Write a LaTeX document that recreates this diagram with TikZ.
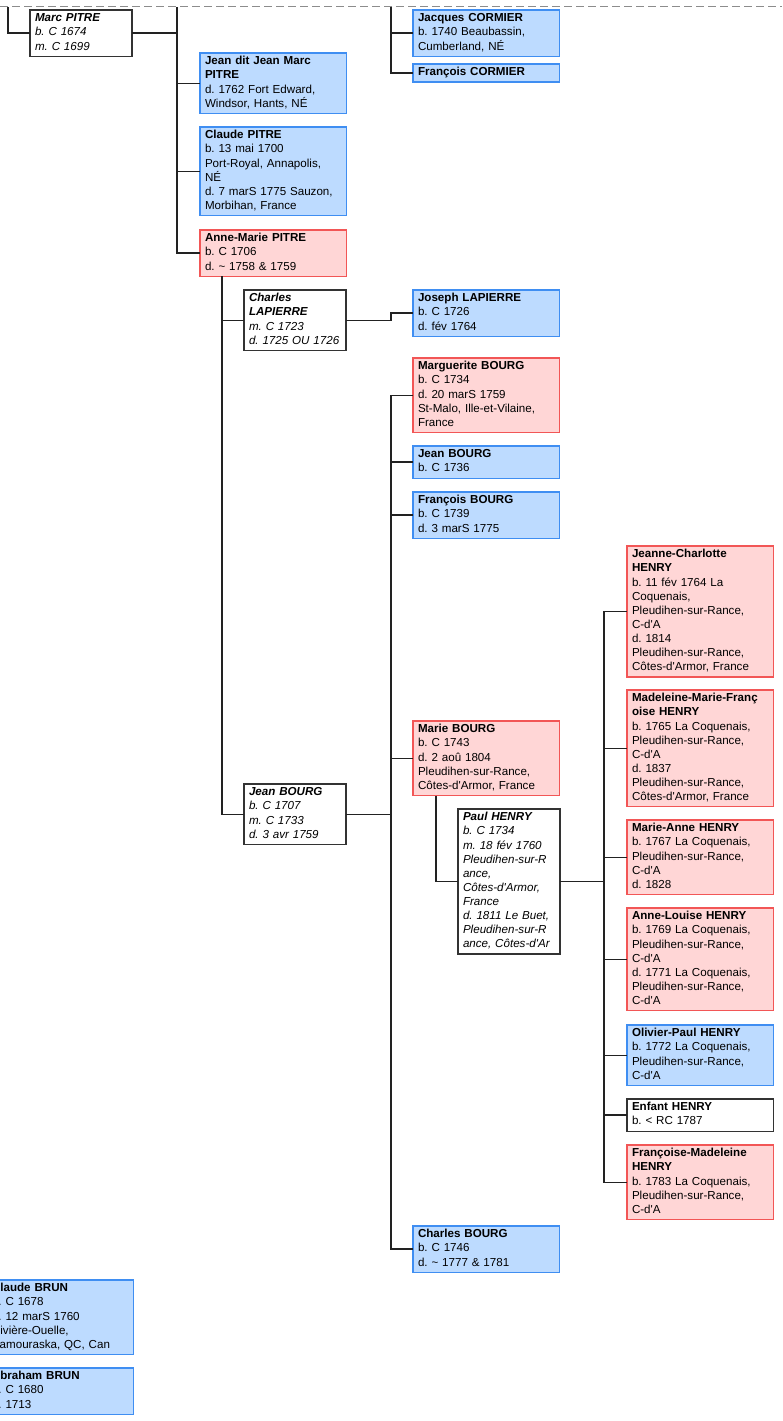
\documentclass[tikz,border=0pt]{standalone}
\usepackage{fontspec}
\setmainfont{Liberation Sans}
\definecolor{MaleFill}{HTML}{BDDBFF}
\definecolor{MaleLine}{HTML}{3F8EF2}
\definecolor{FemaleFill}{HTML}{FFD6D6}
\definecolor{FemaleLine}{HTML}{F25656}
\definecolor{Ink}{HTML}{222222}
\definecolor{Frame}{HTML}{333333}
\definecolor{Guide}{HTML}{8C8C8C}
\newcommand{\ap}{\textquotesingle}
\newcommand{\boxfont}{\fontsize{11.6}{14.1}\selectfont\frenchspacing\hyphenpenalty=10000\exhyphenpenalty=10000}
\tikzset{
  person/.style={draw, anchor=north west, align=left, outer sep=0pt, inner xsep=5pt, inner ysep=2pt,
    line width=1.3pt, font=\boxfont,
    execute at begin node=\strut, execute at end node=\strut},
  male/.style={person, fill=MaleFill, draw=MaleLine, text width=136.5pt},
  female/.style={person, fill=FemaleFill, draw=FemaleLine, text width=136.5pt},
  nosex/.style={person, fill=white, draw=Frame, text width=136.5pt},
  spouse/.style={person, fill=white, draw=Frame, text width=92pt, font=\boxfont\itshape},
  link/.style={draw=Ink, line width=1.4pt},
  guide/.style={draw=Guide, line width=1pt, dash pattern=on 8pt off 4pt},
}

\begin{document}
\begin{tikzpicture}[x=1pt, y=-1pt]
  \useasboundingbox (0,0) rectangle (782,1421);
  \clip (0,0) rectangle (782,1421);
  \draw[guide] (0,7) -- (782,7);
  \coordinate (marctop) at (8,7);
  \coordinate (pitretop) at (177,7);
  \coordinate (cormiertop) at (391,7);
  \coordinate (bourgbus) at (391,0);
  \coordinate (henrybus) at (604,0);

  % PITRE
  \node[spouse] (marc) at (30,10) {\textbf{Marc PITRE}\\ b. C 1674\\ m. C 1699};
  \node[male] (jeandit) at (200,53) {\textbf{Jean dit Jean Marc}\\ \textbf{PITRE}\\ d. 1762 Fort Edward,\\ Windsor, Hants, NÉ};
  \node[male] (claude) at (200,127) {\textbf{Claude PITRE}\\ b. 13 mai 1700\\ Port-Royal, Annapolis,\\ NÉ\\ d. 7 marS 1775 Sauzon,\\ Morbihan, France};
  \node[female] (annemarie) at (200,230) {\textbf{Anne-Marie PITRE}\\ b. C 1706\\ d. \textasciitilde{} 1758 \& 1759};

  % CORMIER
  \node[male] (jacques) at (413,10) {\textbf{Jacques CORMIER}\\ b. 1740 Beaubassin,\\ Cumberland, NÉ};
  \node[male] (fcormier) at (413,64) {\textbf{François CORMIER}};

  % LAPIERRE and BOURG
  \node[spouse] (lapierre) at (244,290) {\textbf{Charles}\\ \textbf{LAPIERRE}\\ m. C 1723\\ \mbox{d. 1725 OU 1726}};
  \node[male] (joseph) at (413,290) {\textbf{Joseph LAPIERRE}\\ b. C 1726\\ d. fév 1764};
  \node[female] (marguerite) at (413,358) {\textbf{Marguerite BOURG}\\ b. C 1734\\ d. 20 marS 1759\\ St-Malo, Ille-et-Vilaine,\\ France};
  \node[male] (jeanfils) at (413,446) {\textbf{Jean BOURG}\\ b. C 1736};
  \node[male] (francois) at (413,492) {\textbf{François BOURG}\\ b. C 1739\\ d. 3 marS 1775};
  \node[female] (marie) at (413,721) {\textbf{Marie BOURG}\\ b. C 1743\\ d. 2 aoû 1804\\ Pleudihen-sur-Rance,\\ Côtes-d\ap Armor, France};
  \node[spouse] (jeanbourg) at (244,784) {\textbf{Jean BOURG}\\ b. C 1707\\ m. C 1733\\ d. 3 avr 1759};
  \node[spouse] (paul) at (458,809) {\textbf{Paul HENRY}\\ b. C 1734\\ m. 18 fév 1760\\ Pleudihen-sur-R\\ ance,\\ Côtes-d\ap Armor,\\ France\\ d. 1811 Le Buet,\\ Pleudihen-sur-R\\ \mbox{ance, Côtes-d\ap Ar}};
  \node[male] (charles) at (413,1226) {\textbf{Charles BOURG}\\ b. C 1746\\ d. \textasciitilde{} 1777 \& 1781};

  % HENRY
  \node[female] (jeannech) at (627,546) {\textbf{Jeanne-Charlotte}\\ \textbf{HENRY}\\ b. 11 fév 1764 La\\ Coquenais,\\ Pleudihen-sur-Rance,\\ C-d\ap A\\ d. 1814\\ Pleudihen-sur-Rance,\\ Côtes-d\ap Armor, France};
  \node[female] (madeleine) at (627,690) {\textbf{Madeleine-Marie-Franç}\\ \textbf{oise HENRY}\\ b. 1765 La Coquenais,\\ Pleudihen-sur-Rance,\\ C-d\ap A\\ d. 1837\\ Pleudihen-sur-Rance,\\ Côtes-d\ap Armor, France};
  \node[female] (marieanne) at (627,820) {\textbf{Marie-Anne HENRY}\\ b. 1767 La Coquenais,\\ Pleudihen-sur-Rance,\\ C-d\ap A\\ d. 1828};
  \node[female] (annelouise) at (627,908) {\textbf{Anne-Louise HENRY}\\ b. 1769 La Coquenais,\\ Pleudihen-sur-Rance,\\ C-d\ap A\\ d. 1771 La Coquenais,\\ Pleudihen-sur-Rance,\\ C-d\ap A};
  \node[male] (olivier) at (627,1025) {\textbf{Olivier-Paul HENRY}\\ b. 1772 La Coquenais,\\ Pleudihen-sur-Rance,\\ C-d\ap A};
  \node[nosex] (enfant) at (627,1099) {\textbf{Enfant HENRY}\\ b. < RC 1787};
  \node[female] (francoisem) at (627,1145) {\textbf{Françoise-Madeleine}\\ \textbf{HENRY}\\ b. 1783 La Coquenais,\\ Pleudihen-sur-Rance,\\ C-d\ap A};

  % BRUN
  \node[male] (claudebrun) at (-13,1280) {\textbf{Claude BRUN}\\ b. C 1678\\ d. 12 marS 1760\\ Rivière-Ouelle,\\ Kamouraska, QC, Can};
  \node[male] (abraham) at (-13,1368) {\textbf{Abraham BRUN}\\ b. C 1680\\ d. 1713};

  % links
  \draw[link] (marctop) |- (marc.west);
  \draw[link] (marc.east) -- (marc.east -| pitretop);
  \draw[link] (pitretop) |- (annemarie.west);
  \foreach \kid in {jeandit, claude}
    \draw[link] (\kid.west) -- (\kid.west -| pitretop);
  \draw[link] (cormiertop) |- (fcormier.west);
  \draw[link] (jacques.west) -- (jacques.west -| cormiertop);

  \coordinate (amtrunk) at ([xshift=22pt]annemarie.south west);
  \draw[link] (amtrunk) |- (jeanbourg.west);
  \draw[link] (lapierre.west) -- (lapierre.west -| amtrunk);
  \draw[link] (lapierre.east) -- (lapierre.east -| bourgbus) |- (joseph.west);

  \draw[link] (marguerite.west) -- (marguerite.west -| bourgbus) |- (charles.west);
  \draw[link] (jeanbourg.east) -- (jeanbourg.east -| bourgbus);
  \foreach \kid in {jeanfils, francois, marie}
    \draw[link] (\kid.west) -- (\kid.west -| bourgbus);

  \draw[link] ([xshift=23pt]marie.south west) |- (paul.west);
  \draw[link] (paul.east) -- (paul.east -| henrybus);
  \draw[link] (jeannech.west) -- (jeannech.west -| henrybus) |- (francoisem.west);
  \foreach \kid in {madeleine, marieanne, annelouise, olivier, enfant}
    \draw[link] (\kid.west) -- (\kid.west -| henrybus);
\end{tikzpicture}
\end{document}
